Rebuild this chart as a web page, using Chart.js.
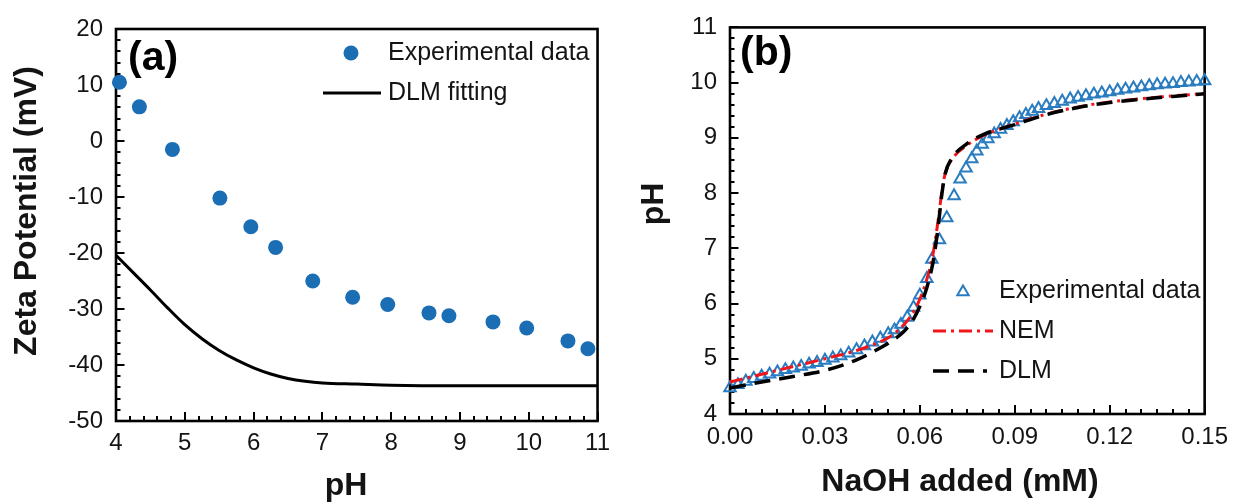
<!DOCTYPE html>
<html><head><meta charset="utf-8">
<script src="https://cdn.jsdelivr.net/npm/chart.js@4.4.1/dist/chart.umd.min.js"></script>
<style>
html,body{margin:0;padding:0;background:#fff;}
#wrap{position:relative;width:1237px;height:502px;overflow:hidden;background:#fff;}
canvas{position:absolute;top:0;}
#ca{left:0;} #cb{left:618px;}
</style></head><body>
<div id="wrap"><canvas id="ca" width="618" height="502"></canvas><canvas id="cb" width="619" height="502"></canvas></div>
<script>
// ---------- Panel (a) data ----------
const phExp   = [4.05, 4.34, 4.82, 5.51, 5.96, 6.32, 6.86, 7.44, 7.95, 8.55, 8.84, 9.48, 9.97, 10.57, 10.86];
const zetaExp = [10.5, 6.1, -1.5, -10.2, -15.3, -19.0, -25.0, -27.9, -29.2, -30.7, -31.2, -32.3, -33.4, -35.7, -37.1];
const phFit   = [4.0, 4.25, 4.5, 4.75, 5.0, 5.25, 5.5, 5.75, 6.0, 6.25, 6.5, 6.75, 7.0, 7.5, 8.0, 9.0, 10.0, 11.0];
const zetaFit = [-20.4, -23.5, -26.6, -29.8, -32.8, -35.3, -37.4, -39.1, -40.5, -41.6, -42.4, -42.9, -43.2, -43.4, -43.6, -43.7, -43.7, -43.7];
const xTicksA = [4, 5, 6, 7, 8, 9, 10, 11];
const yTicksA = [-50, -40, -30, -20, -10, 0, 10, 20];

// ---------- Panel (b) data ----------
const naohExp = [0, 0.0025, 0.005, 0.0075, 0.01, 0.0125, 0.015, 0.0175, 0.02, 0.0225, 0.025, 0.0275, 0.03, 0.0325, 0.035, 0.0375, 0.04, 0.0425, 0.045, 0.0475, 0.05, 0.052, 0.054, 0.056, 0.058, 0.06, 0.0622, 0.0638, 0.0662, 0.0685, 0.0708, 0.0727, 0.0746, 0.0764, 0.078, 0.0797, 0.0815, 0.0835, 0.0855, 0.0875, 0.0895, 0.0915, 0.0935, 0.0955, 0.0975, 0.1, 0.1025, 0.105, 0.1075, 0.11, 0.1125, 0.115, 0.1175, 0.12, 0.1225, 0.125, 0.1275, 0.13, 0.1325, 0.135, 0.1375, 0.14, 0.1425, 0.145, 0.1475, 0.15];
const pHExp   = [4.47, 4.53, 4.59, 4.64, 4.68, 4.72, 4.76, 4.8, 4.83, 4.86, 4.9, 4.93, 4.97, 5.01, 5.05, 5.1, 5.16, 5.23, 5.3, 5.37, 5.45, 5.52, 5.62, 5.75, 5.93, 6.15, 6.45, 6.8, 7.15, 7.55, 7.95, 8.25, 8.45, 8.62, 8.76, 8.88, 8.98, 9.07, 9.15, 9.22, 9.29, 9.36, 9.42, 9.48, 9.53, 9.58, 9.62, 9.66, 9.7, 9.73, 9.76, 9.79, 9.81, 9.83, 9.86, 9.88, 9.9, 9.92, 9.94, 9.96, 9.97, 9.98, 10.0, 10.01, 10.02, 10.03];
const naohNEM = [0, 0.01, 0.02, 0.03, 0.04, 0.045, 0.05, 0.055, 0.058, 0.06, 0.062, 0.064, 0.065, 0.066, 0.067, 0.068, 0.07, 0.075, 0.08, 0.09, 0.1, 0.11, 0.12, 0.13, 0.14, 0.15];
const pHNEM   = [4.58, 4.72, 4.86, 5.0, 5.15, 5.25, 5.38, 5.62, 5.85, 6.08, 6.4, 6.85, 7.2, 7.6, 8.05, 8.35, 8.6, 8.87, 9.04, 9.25, 9.43, 9.56, 9.65, 9.71, 9.76, 9.8];
const naohDLM = [0, 0.01, 0.02, 0.03, 0.04, 0.045, 0.05, 0.055, 0.058, 0.06, 0.062, 0.064, 0.065, 0.066, 0.067, 0.068, 0.07, 0.075, 0.08, 0.09, 0.1, 0.11, 0.12, 0.13, 0.14, 0.15];
const pHDLM   = [4.47, 4.58, 4.68, 4.79, 4.98, 5.12, 5.28, 5.5, 5.72, 5.95, 6.25, 6.7, 7.05, 7.5, 8.0, 8.35, 8.62, 8.9, 9.06, 9.24, 9.42, 9.55, 9.64, 9.7, 9.75, 9.8];
const xTicksB = [0, 0.03, 0.06, 0.09, 0.12, 0.15];
const yTicksB = [4, 5, 6, 7, 8, 9, 10, 11];

// ---------- styles ----------
const FONT = "'Liberation Sans', Arial, Helvetica, sans-serif";
const BLUE = '#1b6db4';
const TRI  = '#2a7cc0';
const TXT  = '#141414';

function pts(xs, ys){ return xs.map((x,i)=>({x:x, y:ys[i]})); }

function deco(cfg){
  return {
    id:'deco',
    beforeDatasetsDraw(chart){
      const ctx = chart.ctx, a = chart.chartArea;
      const sx = chart.scales.x, sy = chart.scales.y;
      ctx.save();
      ctx.strokeStyle = '#000';
      ctx.lineCap = 'butt';
      ctx.lineWidth = 2;
      const drawX = (step, len)=>{
        const n = Math.round((sx.max - sx.min)/step);
        for(let i=0;i<=n;i++){
          const p = Math.round(sx.getPixelForValue(sx.min + i*step));
          ctx.beginPath(); ctx.moveTo(p, a.bottom); ctx.lineTo(p, a.bottom - len); ctx.stroke();
        }
      };
      const drawY = (step, len)=>{
        const n = Math.round((sy.max - sy.min)/step);
        for(let i=0;i<=n;i++){
          const p = Math.round(sy.getPixelForValue(sy.min + i*step));
          ctx.beginPath(); ctx.moveTo(a.left, p); ctx.lineTo(a.left + len, p); ctx.stroke();
        }
      };
      drawX(cfg.xMinor, 5); drawX(cfg.xMajor, 9);
      drawY(cfg.yMinor, 4.5); drawY(cfg.yMajor, 8.5);
      ctx.lineWidth = 2.6;
      ctx.strokeRect(a.left, a.top, a.right - a.left, a.bottom - a.top);
      ctx.restore();
    },
    afterDraw(chart){
      const ctx = chart.ctx;
      ctx.save();
      ctx.fillStyle = TXT;
      ctx.font = 'bold 32px ' + FONT;
      ctx.textAlign = 'center'; ctx.textBaseline = 'alphabetic';
      ctx.fillText(cfg.xTitle, cfg.xTitlePos[0], cfg.xTitlePos[1]);
      ctx.save();
      ctx.translate(cfg.yTitlePos[0], cfg.yTitlePos[1]);
      ctx.rotate(-Math.PI/2);
      ctx.fillText(cfg.yTitle, 0, 0);
      ctx.restore();
      ctx.font = 'bold 41px ' + FONT;
      ctx.textAlign = 'left';
      ctx.fillStyle = '#000';
      ctx.fillText(cfg.panel, cfg.panelPos[0], cfg.panelPos[1]);
      ctx.font = '25px ' + FONT;
      ctx.textBaseline = 'middle';
      cfg.legend.forEach(item=>{
        const ds = chart.data.datasets[item.ds];
        ctx.save();
        if(item.kind === 'point'){
          ctx.fillStyle = ds.backgroundColor;
          ctx.strokeStyle = ds.borderColor || ds.backgroundColor;
          ctx.lineWidth = ds.borderWidth || 0;
          Chart.helpers.drawPoint(ctx, {pointStyle: ds.pointStyle, radius: ds.pointRadius, borderWidth: ds.borderWidth || 0, rotation:0}, item.sym[0], item.sym[1]);
        } else {
          ctx.strokeStyle = ds.borderColor; ctx.lineWidth = ds.borderWidth;
          ctx.setLineDash(ds.borderDash || []);
          ctx.beginPath(); ctx.moveTo(item.sym[0], item.sym[1]); ctx.lineTo(item.sym[2], item.sym[1]); ctx.stroke();
        }
        ctx.restore();
        ctx.fillStyle = TXT;
        ctx.fillText(ds.label, item.text[0], item.text[1]);
      });
      ctx.restore();
    }
  };
}

function axis(min, max, ticks, fit, pad, isX, fmt){
  const o = {
    type:'linear', min:min, max:max,
    afterBuildTicks: s=>{ s.ticks = ticks.map(v=>({value:v})); },
    grid:{display:false, drawTicks:false},
    border:{display:false},
    ticks:{font:{family:FONT, size:24}, color:TXT, padding:pad, maxRotation:0, autoSkip:false,
           callback: v=> fmt ? v.toFixed(2) : String(v)}
  };
  if(isX) o.afterFit = s=>{ s.height = fit; }; else o.afterFit = s=>{ s.width = fit; };
  return o;
}

new Chart(document.getElementById('ca'), {
  type:'scatter',
  data:{datasets:[
    {label:'Experimental data', data:pts(phExp, zetaExp), pointStyle:'circle', pointRadius:7.5, pointHoverRadius:7.5,
     backgroundColor:BLUE, borderColor:BLUE, borderWidth:0, showLine:false, clip:false, order:1},
    {label:'DLM fitting', data:pts(phFit, zetaFit), showLine:true, borderColor:'#000', backgroundColor:'#000', borderWidth:3,
     pointRadius:0, cubicInterpolationMode:'monotone', clip:false, order:2}
  ]},
  options:{
    responsive:false, animation:false, devicePixelRatio:1,
    layout:{padding:{top:29, right:19, left:0, bottom:0}},
    plugins:{legend:{display:false}, tooltip:{enabled:false}},
    scales:{
      x: axis(4, 11, xTicksA, 81, 8, true, false),
      y: axis(-50, 20, yTicksA, 116, 13, false, false)
    }
  },
  plugins:[deco({
    xMinor:0.2, xMajor:1, yMinor:2, yMajor:10,
    xTitle:'pH', xTitlePos:[346, 495],
    yTitle:'Zeta Potential (mV)', yTitlePos:[36, 211],
    panel:'(a)', panelPos:[128, 70],
    legend:[
      {ds:0, kind:'point', sym:[351, 53], text:[388, 53]},
      {ds:1, kind:'line', sym:[323, 93, 381], text:[388, 93]}
    ]
  })]
});

new Chart(document.getElementById('cb'), {
  type:'scatter',
  data:{datasets:[
    {label:'Experimental data', data:pts(naohExp, pHExp), pointStyle:'triangle', pointRadius:6.6, pointHoverRadius:6.6,
     backgroundColor:'rgba(255,255,255,0)', borderColor:TRI, borderWidth:2, showLine:false, clip:false, order:3},
    {label:'NEM', data:pts(naohNEM, pHNEM), showLine:true, borderColor:'#f0161b', backgroundColor:'#f0161b', borderWidth:3,
     borderDash:[13,5,3,5], pointRadius:0, cubicInterpolationMode:'monotone', clip:false, order:2},
    {label:'DLM', data:pts(naohDLM, pHDLM), showLine:true, borderColor:'#000', backgroundColor:'#000', borderWidth:3.5,
     borderDash:[16,9], pointRadius:0, cubicInterpolationMode:'monotone', clip:false, order:1}
  ]},
  options:{
    responsive:false, animation:false, devicePixelRatio:1,
    layout:{padding:{top:24, right:27, left:0, bottom:0}},
    plugins:{legend:{display:false}, tooltip:{enabled:false}},
    scales:{
      x: axis(0, 0.15, xTicksB, 88, 9, true, true),
      y: axis(4, 11, yTicksB, 112, 13, false, false)
    }
  },
  plugins:[deco({
    xMinor:0.005, xMajor:0.03, yMinor:0.2, yMajor:1,
    xTitle:'NaOH added (mM)', xTitlePos:[342, 491],
    yTitle:'pH', yTitlePos:[45, 204],
    panel:'(b)', panelPos:[122, 65],
    legend:[
      {ds:0, kind:'point', sym:[345, 292], text:[381, 291]},
      {ds:1, kind:'line', sym:[315, 331, 375], text:[381, 331]},
      {ds:2, kind:'line', sym:[315, 371, 369], text:[381, 371]}
    ]
  })]
});
</script>
</body></html>
